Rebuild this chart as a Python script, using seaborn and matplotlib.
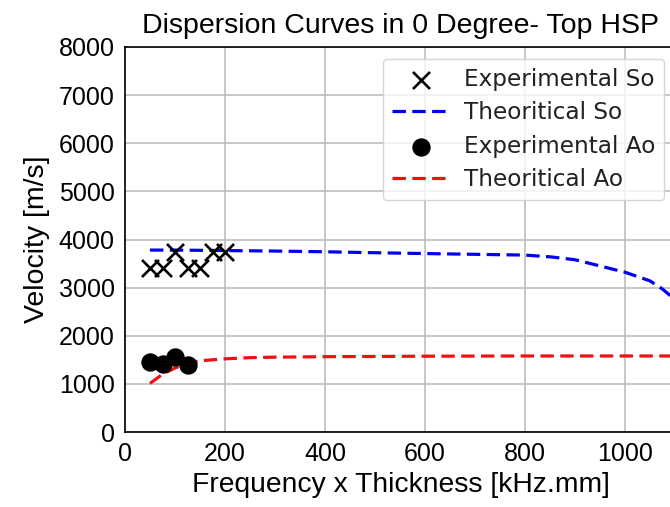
import matplotlib
matplotlib.use("Agg")
import matplotlib.pyplot as plt
import seaborn as sns
import numpy as np
import pandas as pd

# ---- data ----
exp_so_x = [50, 75, 100, 125, 150, 175, 200]
exp_so_y = [3400, 3400, 3750, 3400, 3400, 3750, 3750]

theo_so_x = [50, 100, 200, 300, 400, 500, 600, 700, 800, 850, 900, 950, 1000, 1050, 1075, 1100]
theo_so_y = [3780, 3780, 3770, 3760, 3745, 3725, 3708, 3692, 3676, 3640, 3580, 3450, 3320, 3140, 2970, 2750]

exp_ao_x = [50, 75, 100, 125]
exp_ao_y = [1450, 1420, 1560, 1390]

theo_ao_x = [50, 75, 100, 125, 150, 200, 250, 300, 400, 600, 800, 1000, 1100]
theo_ao_y = [1010, 1200, 1330, 1430, 1480, 1520, 1545, 1555, 1565, 1575, 1580, 1580, 1580]

title = "Dispersion Curves in 0 Degree- Top HSP"
xlabel = "Frequency x Thickness [kHz.mm]"
ylabel = "Velocity [m/s]"
yticks = [0, 1000, 2000, 3000, 4000, 5000, 6000, 7000, 8000]
xticks = [0, 200, 400, 600, 800, 1000]

sns.set_theme(style="whitegrid")
plt.rcParams['font.family'] = ['Liberation Sans', 'DejaVu Sans']

fig = plt.figure(figsize=(6.70, 5.07), dpi=100)
ax = fig.add_axes([125/670, 75/507, 551/670, 385/507])
ax.set_facecolor("white")

sns.scatterplot(x=exp_so_x, y=exp_so_y, ax=ax, marker="x", s=150, color="black",
                linewidth=1.9, label="Experimental So", zorder=3)
sns.lineplot(x=theo_so_x, y=theo_so_y, ax=ax, color="#0000f0", linestyle=(0, (4.2, 2.0)),
             linewidth=2.3, label="Theoritical So", zorder=2)
sns.scatterplot(x=exp_ao_x, y=exp_ao_y, ax=ax, marker="o", s=150, color="black",
                edgecolor="black", label="Experimental Ao", zorder=3)
sns.lineplot(x=theo_ao_x, y=theo_ao_y, ax=ax, color="#f01010", linestyle=(0, (4.2, 2.0)),
             linewidth=2.3, label="Theoritical Ao", zorder=2)

ax.set_xlim(0, 1102)
ax.set_ylim(0, 8000)
ax.set_xticks(xticks)
ax.set_yticks(yticks)
ax.grid(True, color="#b8b8b8", linewidth=1.1)
for s in ax.spines.values():
    s.set_color("black")
    s.set_linewidth(1.2)
ax.spines["right"].set_visible(False)
ax.tick_params(axis="both", which="major", direction="inout", length=7, width=1.1,
               color="black", labelsize=18, pad=4, labelcolor="black")

ax.set_title(title, fontsize=20.5, pad=10, color="black")
ax.set_xlabel(xlabel, fontsize=20.3, color="black", labelpad=4)
ax.set_ylabel(ylabel, fontsize=20.5, color="black", labelpad=6)

leg = ax.legend(loc="upper right", bbox_to_anchor=(1.0, 1.0), borderaxespad=0.5,
                prop={"family": "DejaVu Sans", "size": 16.7}, frameon=True,
                framealpha=0.8, edgecolor="#cccccc", fancybox=True,
                handlelength=2.5, handletextpad=0.6, labelspacing=0.45, borderpad=0.4)
leg.get_frame().set_linewidth(1.0)
for t in leg.get_texts():
    t.set_color("#222222")

fig.savefig("out.png", dpi=100)
